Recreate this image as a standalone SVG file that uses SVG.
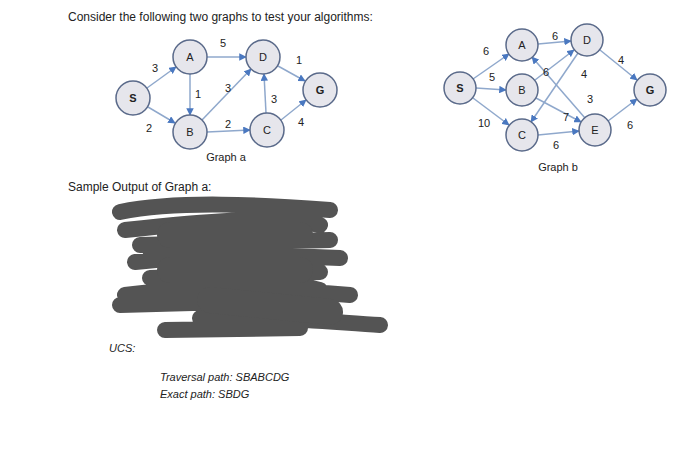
<svg xmlns="http://www.w3.org/2000/svg" width="700" height="465" viewBox="0 0 700 465">
<defs>
<marker id="ar" viewBox="0 0 10 10" refX="9" refY="5" markerWidth="5" markerHeight="5" orient="auto"><path d="M0,0L10,5L0,10z" fill="#4a78c0"/></marker>
<style>
text{font-family:"Liberation Sans",Arial,sans-serif;fill:#222}
.t{font-size:12px}
.n circle{fill:#e6e6ec;stroke:#5a6a8a;stroke-width:1.5}
.n text{font-size:11px;text-anchor:middle}
.e line{stroke:#8fa8cc;stroke-width:1.5;marker-end:url(#ar)}
.l{font-size:11px;text-anchor:middle}
.i{font-size:11px;font-style:italic}
.s{fill:none;stroke:#545454;stroke-width:16;stroke-linecap:round;stroke-linejoin:round}
</style>
</defs>
<rect width="700" height="465" fill="#fff"/>
<text class="t" x="68" y="21">Consider the following two graphs to test your algorithms:</text>
<g id="edges-a" class="e">
<line x1="147" y1="88" x2="176" y2="67"/><line x1="148" y1="107" x2="175" y2="123"/>
<line x1="207" y1="57" x2="246" y2="57"/><line x1="190" y1="74" x2="190" y2="115"/>
<line x1="202" y1="120" x2="251" y2="69"/><line x1="207" y1="132" x2="250" y2="130"/>
<line x1="266" y1="113" x2="264" y2="74"/><line x1="278" y1="66" x2="305" y2="81"/>
<line x1="281" y1="120" x2="306" y2="100"/>
</g>
<g id="labels-a">
<text class="l" x="155" y="72">3</text><text class="l" x="149" y="132">2</text><text class="l" x="223" y="47">5</text>
<text class="l" x="198" y="98">1</text><text class="l" x="228" y="92">3</text><text class="l" x="228" y="128">2</text>
<text class="l" x="274" y="103">3</text><text class="l" x="299" y="64">1</text><text class="l" x="301" y="126">4</text>
</g>
<g id="S-a" class="n"><circle cx="133" cy="98" r="17"/><text x="133" y="102" font-weight="bold">S</text></g>
<g id="A-a" class="n"><circle cx="190" cy="57" r="17"/><text x="190" y="61">A</text></g>
<g id="D-a" class="n"><circle cx="263" cy="57" r="17"/><text x="263" y="61">D</text></g>
<g id="G-a" class="n"><circle cx="320" cy="90" r="17"/><text x="320" y="94" font-weight="bold">G</text></g>
<g id="B-a" class="n"><circle cx="190" cy="132" r="17"/><text x="190" y="136">B</text></g>
<g id="C-a" class="n"><circle cx="267" cy="130" r="17"/><text x="267" y="134">C</text></g>
<text class="l" x="226" y="161">Graph a</text>
<g id="edges-b" class="e">
<line x1="473" y1="79" x2="509" y2="54"/><line x1="476" y1="88" x2="506" y2="90"/>
<line x1="473" y1="98" x2="509" y2="125"/><line x1="538" y1="44" x2="571" y2="41"/>
<line x1="535" y1="80" x2="574" y2="50"/><line x1="536" y1="98" x2="581" y2="122"/>
<line x1="578" y1="53" x2="531" y2="122"/><line x1="585" y1="118" x2="532" y2="57"/>
<line x1="538" y1="135" x2="579" y2="131"/><line x1="600" y1="50" x2="637" y2="80"/>
<line x1="608" y1="121" x2="637" y2="99"/>
</g>
<g id="labels-b">
<text class="l" x="486" y="55">6</text><text class="l" x="492" y="81">5</text><text class="l" x="484" y="127">10</text>
<text class="l" x="555" y="40">6</text><text class="l" x="546" y="76">6</text><text class="l" x="566" y="121">7</text>
<text class="l" x="584" y="78">4</text><text class="l" x="590" y="103">3</text><text class="l" x="556" y="149">6</text>
<text class="l" x="621" y="64">4</text><text class="l" x="630" y="129">6</text>
</g>
<g id="S-b" class="n"><circle cx="460" cy="88" r="16"/><text x="460" y="92" font-weight="bold">S</text></g>
<g id="A-b" class="n"><circle cx="522" cy="45" r="16"/><text x="522" y="49">A</text></g>
<g id="B-b" class="n"><circle cx="522" cy="90" r="16"/><text x="522" y="94">B</text></g>
<g id="C-b" class="n"><circle cx="522" cy="135" r="16"/><text x="522" y="139">C</text></g>
<g id="D-b" class="n"><circle cx="587" cy="40" r="16"/><text x="587" y="44">D</text></g>
<g id="E-b" class="n"><circle cx="595" cy="130" r="16"/><text x="595" y="134">E</text></g>
<g id="G-b" class="n"><circle cx="650" cy="90" r="16"/><text x="650" y="94" font-weight="bold">G</text></g>
<text class="l" x="558" y="171">Graph b</text>
<text class="t" x="68" y="191">Sample Output of Graph a:</text>
<path class="s" d="M120,212 C180,200 260,205 330,210 M125,230 C200,222 270,215 320,225 M140,245 L330,240 M135,262 C200,255 280,255 340,258 M150,278 L320,272 M125,295 C200,285 290,290 350,295 M120,305 L300,300 M200,318 C260,315 330,322 380,325 M165,330 L300,328 M150,250 L320,290"/>
<path class="s" style="stroke-width:26" d="M170,235 L300,235 M170,270 L300,270 M210,300 L330,312"/>
<text class="i" x="109" y="352">UCS:</text>
<text class="i" x="160" y="381">Traversal path: SBABCDG</text>
<text class="i" x="160" y="398">Exact path: SBDG</text>
</svg>
